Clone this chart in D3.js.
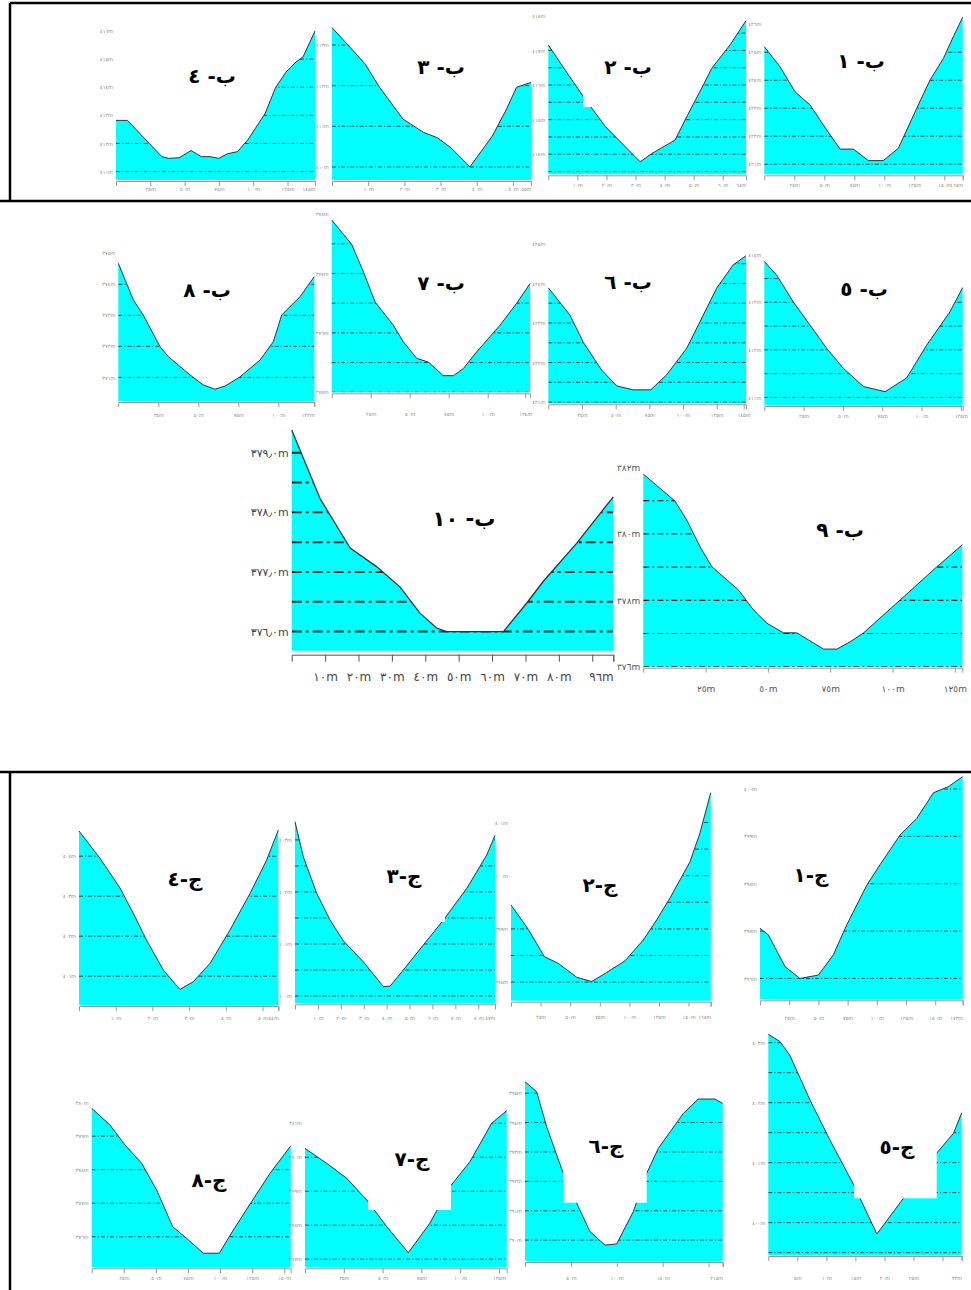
<!DOCTYPE html>
<html>
<head>
<meta charset="utf-8">
<script src="https://cdnjs.cloudflare.com/ajax/libs/d3/7.8.5/d3.min.js"></script>
<style>
  body { margin: 0; background: #fff; }
  svg { display: block; }
</style>
</head>
<body>
<div id="chart"></div>
<script>
// ---- profile data: distance along section (m) and ground level (m) ----
var b4Dist = [0, 8.3, 33.4, 38.4, 46, 54.7, 62.2, 68.5, 74.8, 81.1, 88.6, 96.2, 108.6, 116.2, 123.7, 131.2, 136.3, 145];
var b4Elev = [412.82, 412.82, 411.53, 411.47, 411.49, 411.75, 411.53, 411.53, 411.47, 411.63, 411.71, 412.14, 413.06, 413.98, 414.53, 414.90, 415.08, 416.0];
var b3Dist = [0, 9.1, 12.9, 19.6, 25.3, 29.1, 32.9, 38.1, 44.3, 48.1, 51.0, 55];
var b3Elev = [413.43, 412.54, 411.99, 411.18, 410.85, 410.72, 410.47, 410.0, 410.76, 411.40, 411.96, 412.08];
var b2Dist = [0, 4.6, 12.1, 19.6, 31.6, 35.6, 43.6, 47.6, 53.3, 56.2, 62.5, 68];
var b2Elev = [417.16, 416.58, 415.66, 414.80, 413.78, 414.02, 414.41, 415.08, 416.0, 416.48, 417.16, 417.86];
var b1Dist = [0, 13.1, 25.6, 38.1, 49.2, 63.1, 74.2, 86.7, 99.2, 111.7, 127, 138.1, 149.2, 157.5, 165.3];
var b1Elev = [425.20, 424.48, 423.59, 423.12, 422.40, 421.54, 421.54, 421.13, 421.13, 421.57, 423.00, 424.01, 424.78, 425.56, 426.25];
var b8Dist = [0, 9.4, 15.6, 26.1, 31.3, 44.8, 53.1, 60.4, 66.7, 76.1, 88.6, 96.9, 102.1, 113.6, 122.5];
var b8Elev = [374.68, 373.50, 373.01, 371.99, 371.67, 371.08, 370.76, 370.62, 370.72, 371.02, 371.56, 372.15, 373.01, 373.60, 374.25];
var b7Dist = [0, 12.8, 20.3, 27.8, 39.5, 45.9, 54.5, 61.9, 71.5, 78, 84.4, 92.9, 107.9, 118.6, 127.1];
var b7Elev = [377.90, 377.49, 377.03, 376.52, 376.13, 375.85, 375.57, 375.51, 375.28, 375.28, 375.40, 375.68, 376.13, 376.50, 376.83];
var b6Dist = [0, 16.1, 26, 39.6, 50.7, 63.1, 76, 87.8, 102.7, 112.5, 124.9, 137.2, 146.7];
var b6Elev = [423.89, 423.20, 422.51, 421.81, 421.41, 421.31, 421.31, 421.69, 422.36, 423.03, 423.88, 424.47, 424.70];
var b5Dist = [0, 7.9, 18.4, 29.1, 39.7, 50.3, 63, 76.8, 90.6, 103.3, 118.1, 126.2];
var b5Elev = [413.86, 413.57, 413.01, 412.52, 412.03, 411.61, 411.23, 411.12, 411.41, 412.10, 412.80, 413.31];
var b10Dist = [0, 8.5, 17.5, 25.4, 32.4, 38.4, 43.4, 46.4, 63.4, 70.4, 75.3, 85.3, 96.3];
var b10Elev = [379.38, 378.23, 377.40, 377.09, 376.75, 376.31, 376.06, 376.0, 376.0, 376.48, 376.84, 377.48, 378.26];
var b9Dist = [0, 12.7, 17.4, 22.8, 27.5, 38.2, 44.2, 49.6, 56.2, 61.6, 72.3, 77.7, 83, 88.4, 103.1, 117.8, 128];
var b9Elev = [381.80, 380.99, 380.42, 379.61, 379.01, 378.31, 377.71, 377.31, 377.02, 377.02, 376.53, 376.53, 376.75, 377.02, 378.01, 379.01, 379.67];
var j4Dist = [0, 5.7, 11.2, 14.8, 18.4, 23, 27.5, 31.1, 35.7, 41.1, 46.6, 51.1, 54.3];
var j4Elev = [404.63, 403.95, 403.20, 402.57, 401.90, 401.15, 400.67, 400.86, 401.32, 402.15, 403.07, 403.90, 404.65];
var j3Dist = [0, 3.6, 9.5, 15.3, 21.1, 29.8, 38.6, 41.5, 47.3, 56, 64.8, 75, 83.7, 87.3];
var j3Elev = [403.35, 402.68, 401.97, 401.46, 401.06, 400.66, 400.18, 400.19, 400.50, 400.98, 401.46, 402.07, 402.71, 403.09];
var j2Dist = [0, 14.6, 28.1, 40, 55.5, 68.2, 80.8, 96.3, 111.7, 123.1, 134.3, 151.2, 159.6, 168.7];
var j2Elev = [399.45, 398.99, 398.48, 398.35, 398.09, 398.01, 398.18, 398.40, 398.79, 399.17, 399.58, 400.26, 400.80, 401.56];
var j1Dist = [0, 7.1, 21.4, 34.2, 42.8, 49.9, 62.8, 74.2, 91.4, 102.7, 119.9, 134.2, 148.4, 161.2, 173.5];
var j1Elev = [397.06, 396.92, 396.25, 396.0, 396.04, 396.07, 396.50, 397.13, 397.97, 398.40, 399.03, 399.38, 399.92, 400.05, 400.26];
var j8Dist = [0, 14.3, 25.9, 38.9, 50.6, 63.1, 74, 86.9, 99.4, 110.3, 124.6, 138.9, 155];
var j8Elev = [379.83, 379.33, 378.74, 378.19, 377.39, 376.30, 375.95, 375.51, 375.51, 376.20, 377.05, 377.89, 378.71];
var j7Dist = [0, 14, 26.9, 39.8, 52.6, 66.6, 80.5, 93.4, 106.3, 120.3, 130];
var j7Elev = [380.26, 379.82, 379.38, 378.74, 377.96, 377.19, 378.06, 379.13, 379.87, 381.0, 381.37];
var j6Dist = [0, 12.7, 23.6, 41.7, 58.1, 70.8, 87.1, 99.9, 118, 132.5, 145.2, 172.5, 188.8, 207, 215.4];
var j6Elev = [395.39, 395.05, 393.86, 392.27, 391.14, 390.29, 389.83, 389.87, 390.97, 392.27, 393.12, 394.31, 394.80, 394.80, 394.65];
var j5Dist = [0, 2, 3.7, 7.2, 10.6, 14.7, 18.7, 23.3, 29, 31.9, 33.3];
var j5Elev = [403.14, 403.02, 402.79, 402.04, 401.38, 400.63, 399.81, 400.41, 401.16, 401.49, 401.83];

// ---- y domains (base, top), gridlines and labelled levels ----
var b4YDom = [410.7, 416.0], b4Grid = [411, 412, 413, 414, 415], b4YTicks = [411, 412, 413, 414, 415, 416];
var b3YDom = [409.68, 413.43], b3Grid = [410, 411, 412, 413], b3YTicks = [410, 411, 412, 413];
var b2YDom = [413.42, 417.86], b2Grid = [413.5, 414, 414.5, 415, 415.5, 416, 416.5, 417, 417.5], b2YTicks = [414, 415, 416, 417, 418];
var b1YDom = [420.64, 426.25], b1Grid = [421, 422, 423, 424, 425], b1YTicks = [421, 422, 423, 424, 425, 426];
var b8YDom = [370.24, 375], b8Grid = [371, 372, 373, 374], b8YTicks = [371, 372, 373, 374, 375];
var b7YDom = [375, 377.9], b7Grid = [375, 375.5, 376, 376.5, 377, 377.5], b7YTicks = [375, 376, 377, 378];
var b6YDom = [420.97, 425], b6Grid = [421, 421.5, 422, 422.5, 423, 423.5, 424, 424.5], b6YTicks = [421, 422, 423, 424, 425];
var b5YDom = [410.84, 414], b5Grid = [411, 411.5, 412, 412.5, 413, 413.5], b5YTicks = [411, 412, 413, 414];
var b10YDom = [375.68, 379.38], b10Grid = [376, 376.5, 377, 377.5, 378, 378.5, 379], b10YTicks = [376, 377, 378, 379];
var b9YDom = [376, 382], b9Grid = [376, 377, 378, 379, 380, 381], b9YTicks = [376, 378, 380, 382];
var j4YDom = [400.28, 404.63], j4Grid = [401, 402, 403, 404], j4YTicks = [401, 402, 403, 404];
var j3YDom = [399.86, 403.35], j3Grid = [400, 400.5, 401, 401.5, 402, 402.5, 403], j3YTicks = [400, 401, 402, 403];
var j2YDom = [397.65, 401.56], j2Grid = [398, 398.5, 399, 399.5, 400, 400.5, 401], j2YTicks = [398, 399, 400, 401];
var j1YDom = [395.56, 400.26], j1Grid = [396, 397, 398, 399, 400], j1YTicks = [396, 397, 398, 399, 400];
var j8YDom = [375.09, 379.83], j8Grid = [376, 377, 378, 379], j8YTicks = [376, 377, 378, 379, 380];
var j7YDom = [376.76, 381.37], j7Grid = [377, 378, 379, 380, 381], j7YTicks = [377, 378, 379, 380, 381];
var j6YDom = [389.29, 395.39], j6Grid = [390, 391, 392, 393, 394, 395], j6YTicks = [390, 391, 392, 393, 394, 395];
var j5YDom = [399.46, 403.145], j5Grid = [399.5, 400, 400.5, 401, 401.5, 402, 402.5, 403], j5YTicks = [400, 401, 402, 403];

// ---- x ticks (position) and the number printed under each (null = no text) ----
var b4XTicks = [25, 50, 75, 100, 125, 145], b4XLabels = [25, 50, 75, 100, 125, 145];
var b3XTicks = [10, 20, 30, 40, 50, 55], b3XLabels = [10, 20, 30, 40, 50, 55];
var b2XTicks = [10, 20, 30, 40, 50, 60, 68], b2XLabels = [10, 20, 30, 40, 50, 60, 68];
var b1XTicks = [25, 50, 75, 100, 125, 150, 165.3], b1XLabels = [25, 50, 75, 100, 125, 150, 165];
var b8XTicks = [25, 50, 75, 100, 122.5], b8XLabels = [25, 50, 75, 100, 122];
var b7XTicks = [25, 50, 75, 100, 124], b7XLabels = [25, 50, 75, 100, 124];
var b6XTicks = [25, 50, 75, 100, 125, 145], b6XLabels = [25, 50, 75, 100, 125, 145];
var b5XTicks = [25, 50, 75, 100, 125], b5XLabels = [25, 50, 75, 100, 125];
var b10XTicks = [10, 20, 30, 40, 50, 60, 70, 80, 90, 96.3], b10XLabels = [10, 20, 30, 40, 50, 60, 70, 80, null, 96];
var b9XTicks = [25, 50, 75, 100, 125], b9XLabels = [25, 50, 75, 100, 125];
var j4XTicks = [10, 20, 30, 40, 50, 54.3], j4XLabels = [10, 20, 30, 40, 50, 54];
var j3XTicks = [10, 20, 30, 40, 50, 60, 70, 80, 87.3], j3XLabels = [10, 20, 30, 40, 50, 60, 70, 80, 87];
var j2XTicks = [25, 50, 75, 100, 125, 150, 168.7], j2XLabels = [25, 50, 75, 100, 125, 150, 168];
var j1XTicks = [25, 50, 75, 100, 125, 150, 173.5], j1XLabels = [25, 50, 75, 100, 125, 150, 173];
var j8XTicks = [25, 50, 75, 100, 125, 150], j8XLabels = [25, 50, 75, 100, 125, 150];
var j7XTicks = [25, 50, 75, 100, 125], j7XLabels = [25, 50, 75, 100, 125];
var j6XTicks = [50, 100, 150, 200, 215.4], j6XLabels = [50, 100, 150, null, 215];
var j5XTicks = [5, 10, 15, 20, 25, 30, 33.3], j5XLabels = [5, 10, 15, 20, 25, null, 33];

// section names
var names = {
  b4: 'ب- ٤', b3: 'ب- ٣', b2: 'ب- ٢', b1: 'ب- ١', b8: 'ب- ٨', b7: 'ب- ٧', b6: 'ب- ٦', b5: 'ب- ٥',
  b10: 'ب- ١٠', b9: 'ب- ٩', j4: 'ج-٤', j3: 'ج-٣', j2: 'ج-٢', j1: 'ج-١', j8: 'ج-٨', j7: 'ج-٧', j6: 'ج-٦', j5: 'ج-٥'
};

// ---- page layout of each small chart (pixels) ----
// x: left/right of profile, y: pixel of domain base/top, t: title centre, lab: axis label offset, box: white label box
var layout = {
  b4:  { x: [116, 315],     y: [180, 31],       t: [212, 77],   lab: 9 },
  b3:  { x: [332, 531],     y: [180, 27.5],     t: [441, 68],   lab: 9 },
  b2:  { x: [548.3, 746],   y: [174.3, 20.7],   t: [628, 68],   lab: 11, box: [583, 30, 90, 77] },
  b1:  { x: [764.3, 962.7], y: [174.3, 17.3],   t: [861, 62],   lab: 11 },
  b8:  { x: [118.3, 314.3], y: [401, 253.3],    t: [207, 291],  lab: 14 },
  b7:  { x: [331.7, 530],   y: [392.3, 220],    t: [441, 284],  lab: 22 },
  b6:  { x: [548.3, 746],   y: [403.3, 243.9],  t: [628, 283],  lab: 12 },
  b5:  { x: [764.3, 962.7], y: [405, 254.8],    t: [864, 290],  lab: 11 },
  b10: { x: [291.7, 613.3], y: [650.7, 430],    t: [464, 520],  lab: 27, size: 'big' },
  b9:  { x: [643.3, 962.3], y: [666.7, 467.5],  t: [840, 531],  lab: 23, size: 'mid' },
  j4:  { x: [79, 278.3],    y: [1005, 831],     t: [185, 880],  lab: 13 },
  j3:  { x: [295, 495],     y: [1003.3, 821.7], t: [404, 877],  lab: 15, box: [360, 837, 85, 85] },
  j2:  { x: [511, 710.7],   y: [1000.7, 792.7], t: [600, 886],  lab: 17 },
  j1:  { x: [760, 962.7],   y: [999.3, 776.7],  t: [811, 876],  lab: 19 },
  j8:  { x: [91.7, 290.7],  y: [1267.3, 1108.3], t: [209, 1181], lab: 11 },
  j7:  { x: [305, 506.7],   y: [1267.3, 1110.7], t: [412, 1160], lab: 11, box: [368, 1120, 83, 90] },
  j6:  { x: [525, 722.7],   y: [1261, 1081.7],  t: [606, 1147], lab: 17, box: [563.3, 1107, 83.4, 95.7] },
  j5:  { x: [768.3, 961.7], y: [1255, 1034],    t: [897, 1148], lab: 23, box: [854, 1108, 82.7, 90.3] }
};

var panels = [
  { key: 'b4', dist: b4Dist, elev: b4Elev, yDom: b4YDom, grid: b4Grid, yTicks: b4YTicks, xTicks: b4XTicks, xLabels: b4XLabels },
  { key: 'b3', dist: b3Dist, elev: b3Elev, yDom: b3YDom, grid: b3Grid, yTicks: b3YTicks, xTicks: b3XTicks, xLabels: b3XLabels },
  { key: 'b2', dist: b2Dist, elev: b2Elev, yDom: b2YDom, grid: b2Grid, yTicks: b2YTicks, xTicks: b2XTicks, xLabels: b2XLabels },
  { key: 'b1', dist: b1Dist, elev: b1Elev, yDom: b1YDom, grid: b1Grid, yTicks: b1YTicks, xTicks: b1XTicks, xLabels: b1XLabels },
  { key: 'b8', dist: b8Dist, elev: b8Elev, yDom: b8YDom, grid: b8Grid, yTicks: b8YTicks, xTicks: b8XTicks, xLabels: b8XLabels },
  { key: 'b7', dist: b7Dist, elev: b7Elev, yDom: b7YDom, grid: b7Grid, yTicks: b7YTicks, xTicks: b7XTicks, xLabels: b7XLabels },
  { key: 'b6', dist: b6Dist, elev: b6Elev, yDom: b6YDom, grid: b6Grid, yTicks: b6YTicks, xTicks: b6XTicks, xLabels: b6XLabels },
  { key: 'b5', dist: b5Dist, elev: b5Elev, yDom: b5YDom, grid: b5Grid, yTicks: b5YTicks, xTicks: b5XTicks, xLabels: b5XLabels },
  { key: 'b10', dist: b10Dist, elev: b10Elev, yDom: b10YDom, grid: b10Grid, yTicks: b10YTicks, xTicks: b10XTicks, xLabels: b10XLabels },
  { key: 'b9', dist: b9Dist, elev: b9Elev, yDom: b9YDom, grid: b9Grid, yTicks: b9YTicks, xTicks: b9XTicks, xLabels: b9XLabels },
  { key: 'j4', dist: j4Dist, elev: j4Elev, yDom: j4YDom, grid: j4Grid, yTicks: j4YTicks, xTicks: j4XTicks, xLabels: j4XLabels },
  { key: 'j3', dist: j3Dist, elev: j3Elev, yDom: j3YDom, grid: j3Grid, yTicks: j3YTicks, xTicks: j3XTicks, xLabels: j3XLabels },
  { key: 'j2', dist: j2Dist, elev: j2Elev, yDom: j2YDom, grid: j2Grid, yTicks: j2YTicks, xTicks: j2XTicks, xLabels: j2XLabels },
  { key: 'j1', dist: j1Dist, elev: j1Elev, yDom: j1YDom, grid: j1Grid, yTicks: j1YTicks, xTicks: j1XTicks, xLabels: j1XLabels },
  { key: 'j8', dist: j8Dist, elev: j8Elev, yDom: j8YDom, grid: j8Grid, yTicks: j8YTicks, xTicks: j8XTicks, xLabels: j8XLabels },
  { key: 'j7', dist: j7Dist, elev: j7Elev, yDom: j7YDom, grid: j7Grid, yTicks: j7YTicks, xTicks: j7XTicks, xLabels: j7XLabels },
  { key: 'j6', dist: j6Dist, elev: j6Elev, yDom: j6YDom, grid: j6Grid, yTicks: j6YTicks, xTicks: j6XTicks, xLabels: j6XLabels },
  { key: 'j5', dist: j5Dist, elev: j5Elev, yDom: j5YDom, grid: j5Grid, yTicks: j5YTicks, xTicks: j5XTicks, xLabels: j5XLabels }
];

// western digits -> arabic-indic, with "m" unit
function ar(v, dec) {
  var s = dec ? v.toFixed(dec) : String(v);
  return s.replace(/[0-9]/g, function(c) { return '٠١٢٣٤٥٦٧٨٩'[+c]; }).replace('.', '٫') + 'm';
}

var svg = d3.select('#chart').append('svg')
    .attr('width', 971)
    .attr('height', 1290);

// frame lines of the two boxed groups
var frame = [
  [10, 3, 971, 3], [10, 3, 10, 201], [0, 201, 971, 201],
  [0, 772, 971, 772], [10, 772, 10, 1290]
];
svg.selectAll('line.frame').data(frame).join('line')
    .attr('class', 'frame')
    .attr('x1', function(d) { return d[0]; }).attr('y1', function(d) { return d[1]; })
    .attr('x2', function(d) { return d[2]; }).attr('y2', function(d) { return d[3]; })
    .attr('stroke', '#000').attr('stroke-width', 2.5);

panels.forEach(function(p, i) {
  var L = layout[p.key];
  var big = L.size === 'big', mid = L.size === 'mid';
  var fsY = big ? 11 : (mid ? 9 : 5);
  var fsX = big ? 12 : (mid ? 9 : 5);
  var txtCol = big ? '#444' : (mid ? '#555' : '#8a8a8a');
  var gap = big ? 4 : 1;
  var tl = big ? 7 : 5;

  var x = d3.scaleLinear().domain([0, p.dist[p.dist.length - 1]]).range(L.x);
  var y = d3.scaleLinear().domain(p.yDom).range(L.y);
  var pts = p.dist.map(function(d, j) { return [d, p.elev[j]]; });

  var area = d3.area()
      .x(function(d) { return x(d[0]); })
      .y0(y(p.yDom[0]))
      .y1(function(d) { return y(d[1]); });
  var line = d3.line()
      .x(function(d) { return x(d[0]); })
      .y(function(d) { return y(d[1]); });

  var g = svg.append('g');
  var cid = 'clip' + i;
  g.append('clipPath').attr('id', cid)
    .append('path').datum(pts).attr('d', area);

  g.append('path').datum(pts)
      .attr('d', area)
      .attr('fill', '#00ffff');

  // dash-dot level lines, only inside the ground
  g.append('g').attr('clip-path', 'url(#' + cid + ')')
    .selectAll('line').data(p.grid).join('line')
      .attr('x1', L.x[0]).attr('x2', L.x[1])
      .attr('y1', function(d) { return y(d); })
      .attr('y2', function(d) { return y(d); })
      .attr('stroke', big ? '#2a2a2a' : '#1a1a1a')
      .attr('stroke-width', big ? 2 : (mid ? 1.2 : 0.8))
      .attr('stroke-dasharray', big ? '10,4,3,4' : (mid ? '6,3,2,3' : '4,2,1.2,2'));

  g.append('path').datum(pts)
      .attr('d', line)
      .attr('fill', 'none')
      .attr('stroke', '#333')
      .attr('stroke-width', big ? 1.3 : 1);

  // x axis
  var lbl = {};
  p.xTicks.forEach(function(t, j) { lbl[t] = p.xLabels[j]; });
  var xMax = x.domain()[1];
  var xAxis = d3.axisBottom(x)
      .tickValues(p.xTicks)
      .tickSizeInner(tl)
      .tickSizeOuter(tl)
      .tickPadding(Math.max(1, L.lab - gap - tl - fsX * 0.4))
      .tickFormat(function(d) { return lbl[d] == null ? '' : ar(lbl[d]); });
  var ax = g.append('g')
      .attr('transform', 'translate(0,' + (L.y[0] + gap) + ')')
      .call(xAxis);
  ax.select('.domain').attr('stroke', big ? '#555' : '#999');
  ax.selectAll('.tick line').attr('stroke', big ? '#555' : '#999');
  ax.selectAll('.tick text')
      .attr('font-family', 'DejaVu Sans')
      .attr('font-size', fsX)
      .attr('fill', txtCol)
      .attr('text-anchor', function(d) { return d >= xMax - 0.01 ? 'end' : 'middle'; });

  // y labels
  var yAxis = d3.axisLeft(y)
      .tickValues(p.yTicks)
      .tickSize(0)
      .tickPadding(3)
      .tickFormat(function(d) { return ar(d, big ? 1 : 0); });
  var ay = g.append('g')
      .attr('transform', 'translate(' + L.x[0] + ',0)')
      .call(yAxis);
  ay.select('.domain').remove();
  ay.selectAll('text')
      .attr('font-family', 'DejaVu Sans')
      .attr('font-size', fsY)
      .attr('fill', txtCol);

  // white label box behind title
  if (L.box) {
    g.append('rect')
        .attr('x', L.box[0]).attr('y', L.box[1])
        .attr('width', L.box[2]).attr('height', L.box[3])
        .attr('fill', '#fff');
  }

  g.append('text')
      .attr('x', L.t[0]).attr('y', L.t[1])
      .attr('direction', 'rtl')
      .attr('text-anchor', 'middle')
      .attr('dominant-baseline', 'middle')
      .attr('font-family', 'DejaVu Sans')
      .attr('font-weight', 'bold')
      .attr('font-size', big ? 21 : 20)
      .attr('fill', '#000')
      .text(names[p.key]);
});
</script>
</body>
</html>
